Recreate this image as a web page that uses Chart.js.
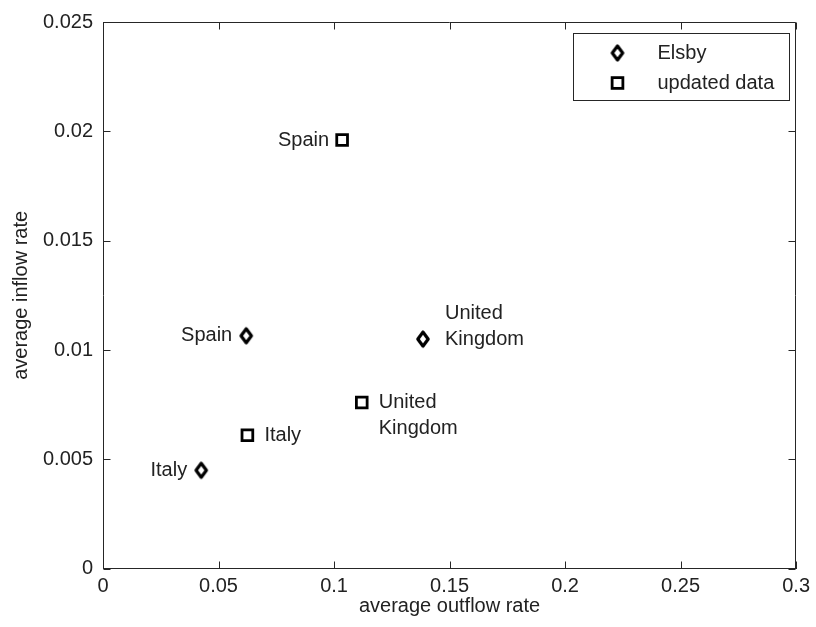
<!DOCTYPE html>
<html>
<head>
<meta charset="utf-8">
<script src="https://cdn.jsdelivr.net/npm/chart.js@4/dist/chart.umd.min.js"></script>
<style>
html,body{margin:0;padding:0;background:#fff;overflow:hidden}
#wrap{position:relative;width:816px;height:627px}
</style>
</head>
<body>
<div id="wrap"><canvas id="c" width="816" height="627"></canvas></div>
<script>
// ---- data ----
const countries = ['Spain', 'Italy', 'United Kingdom'];
const seriesNames = ['Elsby', 'updated data'];
const elsbyOutflow = [0.062, 0.0425, 0.1385];
const elsbyInflow = [0.01065, 0.0045, 0.0105];
const updatedOutflow = [0.1035, 0.0625, 0.112];
const updatedInflow = [0.0196, 0.0061, 0.0076];
const xTickValues = [0, 0.05, 0.1, 0.15, 0.2, 0.25, 0.3];
const xTickLabels = ['0', '0.05', '0.1', '0.15', '0.2', '0.25', '0.3'];
const yTickValues = [0, 0.005, 0.01, 0.015, 0.02, 0.025];
const yTickLabels = ['0', '0.005', '0.01', '0.015', '0.02', '0.025'];
const xTitle = 'average outflow rate';
const yTitle = 'average inflow rate';

// ---- label placement (style only) ----
const elsbyLabelSide = ['left', 'left', 'right'];
const updatedLabelSide = ['left', 'right', 'right'];
const elsbyLineAnchor = [0, 0, 1];   // which text line sits level with the marker
const updatedLineAnchor = [0, 0, 0];

const FONT = '"Liberation Sans", Arial, sans-serif';
const FS = 20;
const textColor = '#222';
const axisColor = '#262626';

// diamond marker image
function makeDiamond() {
  const cv = document.createElement('canvas');
  cv.width = 18; cv.height = 20;
  const g = cv.getContext('2d');
  g.strokeStyle = '#000';
  g.lineWidth = 3.2;
  g.lineJoin = 'round';
  g.beginPath();
  g.moveTo(9, 3); g.lineTo(14.2, 10); g.lineTo(9, 17); g.lineTo(3.8, 10); g.closePath();
  g.stroke();
  return cv;
}
const diamondImg = makeDiamond();

const toPoints = (xs, ys) => xs.map((v, i) => ({ x: v, y: ys[i] }));

const datasets = [
  {
    label: seriesNames[0],
    data: toPoints(elsbyOutflow, elsbyInflow),
    pointStyle: diamondImg,
    pointRadius: 7,
    borderColor: '#000',
    backgroundColor: 'transparent',
    showLine: false,
    names: countries, sides: elsbyLabelSide, anchors: elsbyLineAnchor, gapL: 14, gapR: 22
  },
  {
    label: seriesNames[1],
    data: toPoints(updatedOutflow, updatedInflow),
    pointStyle: 'rect',
    pointRadius: 7.6,
    pointBorderWidth: 2.8,
    borderWidth: 2.8,
    borderColor: '#000',
    backgroundColor: 'transparent',
    showLine: false,
    names: countries, sides: updatedLabelSide, anchors: updatedLineAnchor, gapL: 13, gapR: 17
  }
];

const decorPlugin = {
  id: 'decor',
  afterDraw(chart) {
    const { ctx, chartArea: a, scales: { x, y } } = chart;
    ctx.save();
    // frame top/right + inward ticks
    ctx.strokeStyle = axisColor;
    ctx.lineWidth = 1;
    const L = Math.round(a.left) + 0.5, R = Math.round(a.right) - 0.5;
    const T = Math.round(a.top) + 0.5, B = Math.round(a.bottom) - 0.5;
    ctx.beginPath();
    ctx.moveTo(L, T); ctx.lineTo(R, T); ctx.lineTo(R, B);
    x.ticks.forEach(t => {
      const px = Math.round(x.getPixelForValue(t.value)) + 0.5;
      ctx.moveTo(px, B); ctx.lineTo(px, B - 7);
      ctx.moveTo(px, T); ctx.lineTo(px, T + 7);
    });
    y.ticks.forEach(t => {
      const py = Math.round(y.getPixelForValue(t.value)) + 0.5;
      ctx.moveTo(L, py); ctx.lineTo(L + 7, py);
      ctx.moveTo(R, py); ctx.lineTo(R - 7, py);
    });
    ctx.stroke();

    // point labels
    ctx.font = FS + 'px ' + FONT;
    ctx.fillStyle = textColor;
    ctx.textBaseline = 'middle';
    const lh = 25.5;
    chart.data.datasets.forEach(ds => {
      ds.data.forEach((p, i) => {
        const px = x.getPixelForValue(p.x);
        const py = y.getPixelForValue(p.y);
        const lines = ds.names[i].split(' ');
        const side = ds.sides[i];
        ctx.textAlign = side === 'left' ? 'right' : 'left';
        const tx = side === 'left' ? px - ds.gapL : px + ds.gapR;
        lines.forEach((ln, k) => {
          ctx.fillText(ln, tx, py + (k - ds.anchors[i]) * lh);
        });
      });
    });

    // legend box
    const bw = 216, bh = 67;
    const bx = Math.round(a.right - 7.5 - bw) + 0.5;
    const by = Math.round(a.top + 11) + 0.5;
    ctx.fillStyle = '#fff';
    ctx.fillRect(bx, by, bw, bh);
    ctx.strokeStyle = axisColor;
    ctx.lineWidth = 1;
    ctx.strokeRect(bx, by, bw, bh);
    ctx.textAlign = 'left';
    ctx.fillStyle = textColor;
    chart.data.datasets.forEach((ds, k) => {
      const cy = by + 19.5 + k * 30;
      const mx = bx + 44;
      if (ds.pointStyle === 'rect') {
        ctx.strokeStyle = '#000';
        ctx.lineWidth = ds.pointBorderWidth;
        const s = ds.pointRadius * Math.SQRT1_2;
        ctx.strokeRect(mx - s, cy - s, 2 * s, 2 * s);
      } else {
        ctx.drawImage(ds.pointStyle, mx - ds.pointStyle.width / 2, cy - ds.pointStyle.height / 2);
      }
      ctx.fillText(ds.label, bx + 84, cy);
    });
    ctx.restore();
  }
};

new Chart(document.getElementById('c'), {
  type: 'scatter',
  data: { datasets },
  options: {
    responsive: false,
    devicePixelRatio: 1,
    animation: false,
    events: [],
    layout: { padding: { top: 21, right: 15, left: 0, bottom: 0 } },
    plugins: { legend: { display: false }, tooltip: { enabled: false } },
    scales: {
      x: {
        type: 'linear',
        min: 0, max: 0.3,
        afterBuildTicks: s => { s.ticks = xTickValues.map(v => ({ value: v })); },
        afterFit: s => { s.height = 58.3; },
        grid: { display: false, drawTicks: false },
        border: { display: true, color: axisColor, width: 1 },
        ticks: {
          padding: 6,
          color: textColor,
          font: { family: FONT, size: FS },
          maxRotation: 0,
          autoSkip: false,
          callback: (v, i) => xTickLabels[i]
        },
        title: { display: true, text: xTitle, color: textColor, font: { family: FONT, size: FS }, padding: { top: 0, bottom: 9 } }
      },
      y: {
        type: 'linear',
        min: 0, max: 0.025,
        afterBuildTicks: s => { s.ticks = yTickValues.map(v => ({ value: v })); },
        afterFit: s => { s.width = 103; },
        grid: { display: false, drawTicks: false },
        border: { display: true, color: axisColor, width: 1 },
        ticks: {
          padding: 10,
          color: textColor,
          font: { family: FONT, size: FS },
          autoSkip: false,
          callback: (v, i) => yTickLabels[i]
        },
        title: { display: true, text: yTitle, color: textColor, font: { family: FONT, size: FS }, padding: { top: 9, bottom: 0 } }
      }
    }
  },
  plugins: [decorPlugin]
});
</script>
</body>
</html>
